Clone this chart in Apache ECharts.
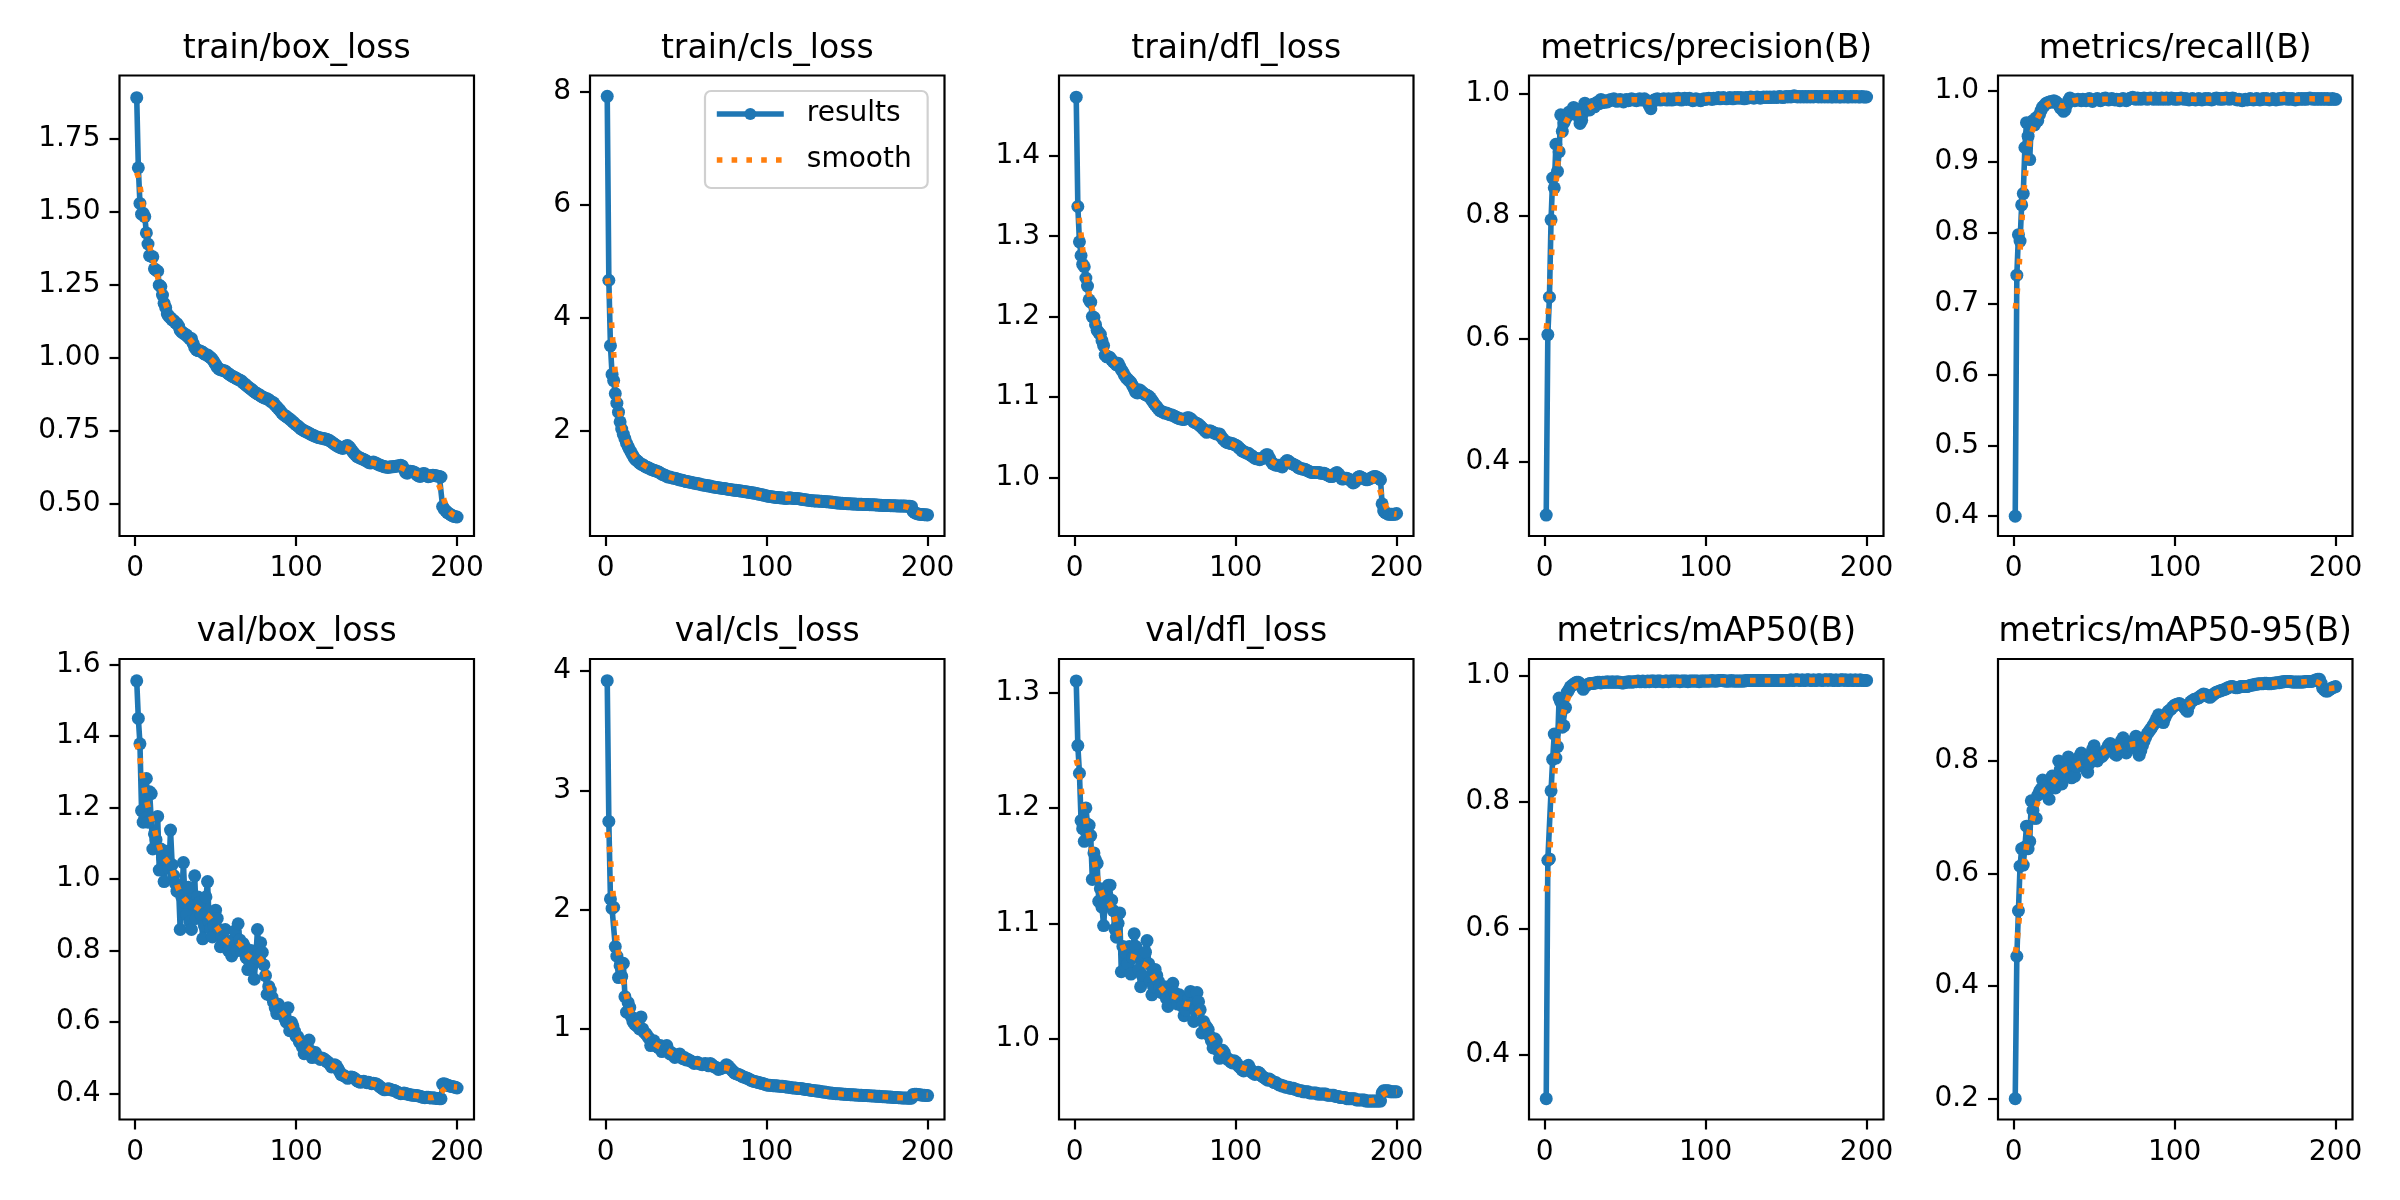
<!DOCTYPE html>
<html>
<head>
<meta charset="utf-8">
<title>results</title>
<script src="https://cdn.jsdelivr.net/npm/echarts@6.0.0/dist/echarts.min.js"></script>
<style>
    html, body { margin: 0; padding: 0; background: #ffffff; }
    #chart { width: 2400px; height: 1200px; }
</style>
</head>
<body>
<div id="chart"></div>
<script>
// 子图标题
const titles = [
    'train/box_loss', 'train/cls_loss', 'train/dfl_loss', 'metrics/precision(B)', 'metrics/recall(B)',
    'val/box_loss', 'val/cls_loss', 'val/dfl_loss', 'metrics/mAP50(B)', 'metrics/mAP50-95(B)'
];

// 每个 epoch 的数值
const trainBoxLoss = [
    1.891, 1.651, 1.529, 1.492, 1.495, 1.484, 1.428, 1.390, 1.350, 1.348,
    1.346, 1.305, 1.300, 1.297, 1.249, 1.244, 1.215, 1.187, 1.172, 1.150,
    1.142, 1.137, 1.130, 1.128, 1.121, 1.117, 1.109, 1.095, 1.088, 1.085,
    1.080, 1.078, 1.071, 1.065, 1.066, 1.050, 1.036, 1.028, 1.025, 1.024,
    1.022, 1.019, 1.014, 1.011, 1.010, 1.004, 1.001, 0.995, 0.986, 0.978,
    0.968, 0.962, 0.960, 0.958, 0.956, 0.955, 0.950, 0.946, 0.942, 0.938,
    0.935, 0.933, 0.929, 0.926, 0.924, 0.921, 0.915, 0.911, 0.906, 0.902,
    0.897, 0.893, 0.889, 0.884, 0.880, 0.877, 0.874, 0.870, 0.866, 0.864,
    0.861, 0.860, 0.857, 0.852, 0.848, 0.846, 0.838, 0.832, 0.826, 0.820,
    0.812, 0.806, 0.803, 0.799, 0.795, 0.790, 0.786, 0.781, 0.776, 0.771,
    0.767, 0.762, 0.757, 0.754, 0.750, 0.748, 0.745, 0.742, 0.739, 0.736,
    0.734, 0.731, 0.729, 0.727, 0.726, 0.725, 0.724, 0.722, 0.721, 0.719,
    0.716, 0.712, 0.708, 0.704, 0.700, 0.697, 0.694, 0.692, 0.690, 0.694,
    0.698, 0.700, 0.695, 0.688, 0.680, 0.673, 0.667, 0.662, 0.659, 0.657,
    0.654, 0.652, 0.649, 0.646, 0.642, 0.640, 0.641, 0.643, 0.641, 0.638,
    0.635, 0.633, 0.631, 0.629, 0.627, 0.626, 0.625, 0.626, 0.627, 0.627,
    0.628, 0.629, 0.630, 0.631, 0.632, 0.630, 0.620, 0.608, 0.605, 0.611,
    0.612, 0.611, 0.609, 0.607, 0.600, 0.596, 0.594, 0.596, 0.604, 0.603,
    0.596, 0.593, 0.594, 0.597, 0.598, 0.597, 0.596, 0.595, 0.594, 0.592,
    0.491, 0.482, 0.476, 0.470, 0.467, 0.463, 0.460, 0.457, 0.456, 0.455
];
const trainClsLoss = [
    7.92, 4.66, 3.50, 2.99, 2.88, 2.65, 2.48, 2.32, 2.15, 2.02,
    1.93, 1.85, 1.77, 1.71, 1.65, 1.60, 1.55, 1.50, 1.47, 1.45,
    1.42, 1.40, 1.39, 1.37, 1.35, 1.34, 1.33, 1.31, 1.30, 1.29,
    1.28, 1.27, 1.26, 1.24, 1.22, 1.21, 1.20, 1.18, 1.17, 1.17,
    1.16, 1.15, 1.15, 1.14, 1.13, 1.12, 1.12, 1.11, 1.10, 1.09,
    1.09, 1.08, 1.08, 1.07, 1.06, 1.06, 1.05, 1.05, 1.04, 1.03,
    1.03, 1.02, 1.02, 1.01, 1.01, 1.00, 0.995, 0.99, 0.985, 0.98,
    0.978, 0.972, 0.968, 0.965, 0.958, 0.955, 0.951, 0.946, 0.942, 0.938,
    0.934, 0.931, 0.927, 0.922, 0.918, 0.915, 0.909, 0.905, 0.900, 0.897,
    0.891, 0.886, 0.881, 0.876, 0.869, 0.863, 0.858, 0.850, 0.843, 0.836,
    0.830, 0.826, 0.822, 0.817, 0.812, 0.809, 0.806, 0.804, 0.801, 0.797,
    0.794, 0.792, 0.796, 0.801, 0.798, 0.793, 0.790, 0.792, 0.789, 0.786,
    0.781, 0.776, 0.771, 0.767, 0.763, 0.760, 0.756, 0.752, 0.749, 0.747,
    0.744, 0.746, 0.743, 0.740, 0.738, 0.736, 0.733, 0.731, 0.729, 0.727,
    0.722, 0.718, 0.714, 0.711, 0.709, 0.707, 0.704, 0.702, 0.700, 0.699,
    0.697, 0.695, 0.694, 0.692, 0.691, 0.690, 0.688, 0.687, 0.686, 0.685,
    0.684, 0.683, 0.682, 0.681, 0.680, 0.679, 0.677, 0.675, 0.673, 0.671,
    0.669, 0.668, 0.667, 0.666, 0.665, 0.664, 0.663, 0.662, 0.661, 0.660,
    0.659, 0.658, 0.657, 0.656, 0.655, 0.655, 0.654, 0.653, 0.652, 0.650,
    0.560, 0.538, 0.525, 0.516, 0.511, 0.507, 0.504, 0.502, 0.500, 0.498
];
const trainDflLoss = [
    1.473, 1.337, 1.293, 1.276, 1.265, 1.262, 1.248, 1.238, 1.221, 1.218,
    1.200, 1.199, 1.190, 1.183, 1.180, 1.178, 1.170, 1.164, 1.152, 1.150,
    1.150, 1.149, 1.146, 1.144, 1.142, 1.140, 1.142, 1.138, 1.134, 1.131,
    1.127, 1.124, 1.122, 1.120, 1.118, 1.114, 1.110, 1.106, 1.105, 1.109,
    1.108, 1.106, 1.104, 1.103, 1.102, 1.101, 1.099, 1.096, 1.093, 1.090,
    1.088, 1.085, 1.083, 1.082, 1.081, 1.080, 1.080, 1.079, 1.078, 1.078,
    1.077, 1.076, 1.075, 1.074, 1.073, 1.073, 1.072, 1.072, 1.073, 1.074,
    1.074, 1.073, 1.071, 1.069, 1.068, 1.067, 1.066, 1.064, 1.062, 1.060,
    1.058, 1.056, 1.057, 1.058, 1.057, 1.056, 1.055, 1.054, 1.054, 1.054,
    1.051, 1.048, 1.046, 1.044, 1.043, 1.043, 1.042, 1.042, 1.041, 1.040,
    1.039, 1.037, 1.035, 1.033, 1.032, 1.031, 1.030, 1.030, 1.028, 1.027,
    1.025, 1.024, 1.023, 1.023, 1.022, 1.023, 1.024, 1.026, 1.028, 1.028,
    1.024, 1.020, 1.017, 1.016, 1.015, 1.015, 1.015, 1.014, 1.013, 1.016,
    1.019, 1.021, 1.020, 1.018, 1.017, 1.016, 1.015, 1.014, 1.012, 1.011,
    1.011, 1.010, 1.010, 1.009, 1.008, 1.007, 1.006, 1.006, 1.006, 1.006,
    1.006, 1.006, 1.005, 1.005, 1.005, 1.004, 1.003, 1.002, 1.001, 1.001,
    1.003, 1.005, 1.006, 1.004, 1.001, 0.998, 0.998, 0.999, 0.999, 0.998,
    0.997, 0.995, 0.993, 0.994, 0.997, 1.000, 1.001, 1.000, 0.999, 0.998,
    0.997, 0.997, 0.998, 0.999, 1.000, 1.001, 1.001, 1.000, 0.999, 0.997,
    0.967, 0.958, 0.956, 0.955, 0.954, 0.954, 0.954, 0.954, 0.954, 0.955
];
const precision = [
    0.313, 0.607, 0.668, 0.794, 0.862, 0.846, 0.917, 0.873, 0.905, 0.965,
    0.938, 0.952, 0.958, 0.963, 0.969, 0.966, 0.972, 0.977, 0.970, 0.974,
    0.962, 0.951, 0.956, 0.968, 0.984, 0.979, 0.975, 0.973, 0.980, 0.982,
    0.978, 0.984, 0.986, 0.983, 0.990, 0.987, 0.985, 0.988, 0.986, 0.988,
    0.990, 0.989, 0.991, 0.988, 0.987, 0.989, 0.990, 0.988, 0.986, 0.989,
    0.990, 0.988, 0.989, 0.991, 0.990, 0.989, 0.988, 0.990, 0.991, 0.989,
    0.990, 0.991, 0.988, 0.985, 0.980, 0.975, 0.985, 0.989, 0.990, 0.991,
    0.990, 0.989, 0.990, 0.991, 0.990, 0.989, 0.991, 0.990, 0.989, 0.991,
    0.990, 0.991, 0.992, 0.990, 0.989, 0.991, 0.992, 0.990, 0.991, 0.992,
    0.990, 0.988, 0.989, 0.991, 0.990, 0.989, 0.988, 0.990, 0.991, 0.990,
    0.991, 0.992, 0.991, 0.990, 0.992, 0.991, 0.992, 0.993, 0.991, 0.992,
    0.993, 0.992, 0.991, 0.992, 0.993, 0.992, 0.991, 0.993, 0.992, 0.993,
    0.992, 0.993, 0.992, 0.991, 0.993, 0.992, 0.993, 0.994, 0.993, 0.992,
    0.993, 0.994, 0.993, 0.992, 0.993, 0.994, 0.993, 0.994, 0.993, 0.994,
    0.993, 0.994, 0.994, 0.993, 0.994, 0.995, 0.994, 0.993, 0.994, 0.995,
    0.994, 0.995, 0.994, 0.995, 0.996, 0.995, 0.994, 0.995, 0.994, 0.995,
    0.994, 0.995, 0.994, 0.995, 0.994, 0.995, 0.994, 0.995, 0.995, 0.994,
    0.995, 0.994, 0.995, 0.994, 0.995, 0.994, 0.995, 0.994, 0.994, 0.995,
    0.994, 0.995, 0.994, 0.994, 0.995, 0.994, 0.995, 0.994, 0.994, 0.995,
    0.994, 0.995, 0.994, 0.995, 0.994, 0.994, 0.995, 0.994, 0.994, 0.994
];
const recall = [
    0.400, 0.740, 0.797, 0.788, 0.839, 0.855, 0.920, 0.955, 0.936, 0.903,
    0.956, 0.958, 0.952, 0.962, 0.958, 0.966, 0.972, 0.977, 0.979, 0.982,
    0.983, 0.984, 0.985, 0.984, 0.986, 0.985, 0.983, 0.980, 0.976, 0.974,
    0.971, 0.973, 0.980, 0.986, 0.990, 0.988, 0.987, 0.986, 0.987, 0.988,
    0.987, 0.986, 0.988, 0.987, 0.986, 0.988, 0.989, 0.987, 0.985, 0.987,
    0.988, 0.989, 0.987, 0.986, 0.988, 0.989, 0.990, 0.988, 0.987, 0.988,
    0.989, 0.988, 0.987, 0.988, 0.987, 0.986, 0.988, 0.989, 0.987, 0.986,
    0.988, 0.989, 0.990, 0.991, 0.989, 0.988, 0.990, 0.989, 0.988, 0.989,
    0.990, 0.989, 0.988, 0.989, 0.990, 0.989, 0.988, 0.990, 0.989, 0.988,
    0.989, 0.990, 0.988, 0.989, 0.990, 0.988, 0.989, 0.990, 0.989, 0.988,
    0.989, 0.988, 0.989, 0.990, 0.989, 0.988, 0.989, 0.988, 0.987, 0.988,
    0.989, 0.988, 0.987, 0.988, 0.989, 0.988, 0.987, 0.988, 0.989, 0.988,
    0.989, 0.988, 0.987, 0.988, 0.989, 0.990, 0.989, 0.988, 0.989, 0.988,
    0.989, 0.990, 0.989, 0.988, 0.989, 0.990, 0.989, 0.988, 0.987, 0.988,
    0.987, 0.986, 0.987, 0.988, 0.987, 0.988, 0.989, 0.988, 0.987, 0.988,
    0.989, 0.988, 0.987, 0.988, 0.989, 0.988, 0.989, 0.988, 0.987, 0.988,
    0.989, 0.988, 0.987, 0.988, 0.989, 0.988, 0.989, 0.990, 0.989, 0.988,
    0.989, 0.988, 0.989, 0.988, 0.987, 0.988, 0.989, 0.988, 0.989, 0.988,
    0.989, 0.988, 0.989, 0.990, 0.989, 0.988, 0.989, 0.988, 0.989, 0.988,
    0.989, 0.988, 0.989, 0.988, 0.989, 0.988, 0.988, 0.989, 0.988, 0.988
];
const valBoxLoss = [
    1.554, 1.449, 1.378, 1.191, 1.159, 1.170, 1.281, 1.159, 1.244, 1.239,
    1.084, 1.126, 1.110, 1.175, 1.025, 1.084, 1.060, 0.993, 1.078, 1.041,
    1.030, 1.137, 1.040, 1.010, 0.988, 0.966, 0.975, 0.859, 0.950, 1.046,
    0.935, 0.900, 0.977, 0.880, 0.859, 0.930, 1.009, 0.890, 0.950, 0.934,
    0.900, 0.833, 0.870, 0.950, 0.993, 0.880, 0.860, 0.838, 0.870, 0.913,
    0.890, 0.860, 0.811, 0.840, 0.830, 0.859, 0.820, 0.800, 0.810, 0.785,
    0.830, 0.855, 0.800, 0.875, 0.830, 0.800, 0.820, 0.811, 0.780, 0.747,
    0.770, 0.800, 0.760, 0.720, 0.780, 0.859, 0.790, 0.822, 0.795, 0.760,
    0.730, 0.678, 0.700, 0.690, 0.670, 0.656, 0.640, 0.624, 0.650, 0.640,
    0.630, 0.624, 0.610, 0.600, 0.640, 0.576, 0.600, 0.590, 0.575, 0.560,
    0.560, 0.545, 0.540, 0.530, 0.512, 0.530, 0.545, 0.550, 0.520, 0.501,
    0.510, 0.515, 0.505, 0.500, 0.496, 0.500, 0.498, 0.495, 0.490, 0.488,
    0.482, 0.475, 0.478, 0.481, 0.478, 0.470, 0.462, 0.453, 0.452, 0.450,
    0.447, 0.443, 0.445, 0.447, 0.446, 0.444, 0.440, 0.436, 0.434, 0.432,
    0.434, 0.435, 0.433, 0.431, 0.432, 0.430, 0.428, 0.429, 0.428, 0.427,
    0.424, 0.420, 0.416, 0.413, 0.411, 0.412, 0.414, 0.413, 0.411, 0.410,
    0.409, 0.407, 0.404, 0.402, 0.400, 0.401, 0.402, 0.401, 0.399, 0.398,
    0.397, 0.396, 0.396, 0.395, 0.395, 0.394, 0.393, 0.391, 0.390, 0.389,
    0.390, 0.390, 0.389, 0.388, 0.389, 0.388, 0.387, 0.387, 0.386, 0.386,
    0.427, 0.428, 0.426, 0.424, 0.422, 0.421, 0.420, 0.419, 0.418, 0.416
];
const valClsLoss = [
    3.92, 2.74, 2.09, 2.01, 2.02, 1.69, 1.61, 1.43, 1.53, 1.44,
    1.55, 1.27, 1.14, 1.22, 1.18, 1.10, 1.06, 1.04, 1.03, 1.02,
    1.00, 1.10, 1.00, 0.97, 0.96, 0.94, 0.92, 0.86, 0.88, 0.90,
    0.87, 0.85, 0.84, 0.86, 0.81, 0.83, 0.85, 0.86, 0.82, 0.79,
    0.80, 0.78, 0.76, 0.77, 0.78, 0.79, 0.77, 0.75, 0.76, 0.74,
    0.745, 0.735, 0.73, 0.72, 0.71, 0.715, 0.72, 0.71, 0.705, 0.70,
    0.705, 0.71, 0.70, 0.69, 0.71, 0.70, 0.685, 0.68, 0.675, 0.66,
    0.665, 0.67, 0.675, 0.68, 0.70, 0.69, 0.675, 0.66, 0.645, 0.63,
    0.625, 0.62, 0.615, 0.61, 0.60, 0.595, 0.59, 0.585, 0.58, 0.57,
    0.565, 0.56, 0.557, 0.555, 0.55, 0.546, 0.543, 0.540, 0.535, 0.530,
    0.528, 0.527, 0.526, 0.523, 0.522, 0.522, 0.520, 0.519, 0.519, 0.518,
    0.516, 0.513, 0.512, 0.511, 0.508, 0.505, 0.505, 0.504, 0.501, 0.500,
    0.499, 0.498, 0.495, 0.492, 0.491, 0.490, 0.487, 0.484, 0.483, 0.482,
    0.479, 0.478, 0.476, 0.473, 0.471, 0.470, 0.468, 0.465, 0.463, 0.462,
    0.460, 0.459, 0.457, 0.456, 0.456, 0.454, 0.453, 0.452, 0.451, 0.450,
    0.449, 0.448, 0.447, 0.447, 0.446, 0.445, 0.444, 0.444, 0.443, 0.442,
    0.441, 0.441, 0.440, 0.439, 0.438, 0.437, 0.437, 0.435, 0.434, 0.434,
    0.432, 0.431, 0.431, 0.430, 0.429, 0.428, 0.428, 0.426, 0.425, 0.424,
    0.424, 0.423, 0.422, 0.421, 0.421, 0.420, 0.420, 0.419, 0.418, 0.418,
    0.450, 0.452, 0.451, 0.449, 0.447, 0.446, 0.444, 0.443, 0.442, 0.441
];
const valDflLoss = [
    1.310, 1.254, 1.230, 1.189, 1.182, 1.171, 1.200, 1.186, 1.185, 1.176,
    1.138, 1.161, 1.155, 1.152, 1.119, 1.130, 1.114, 1.098, 1.118, 1.125,
    1.133, 1.133, 1.120, 1.111, 1.095, 1.088, 1.100, 1.109, 1.058, 1.080,
    1.075, 1.062, 1.065, 1.080, 1.056, 1.070, 1.091, 1.080, 1.072, 1.060,
    1.045, 1.055, 1.072, 1.075, 1.085, 1.065, 1.050, 1.038, 1.045, 1.060,
    1.055, 1.050, 1.045, 1.040, 1.040, 1.045, 1.035, 1.028, 1.032, 1.040,
    1.048, 1.040, 1.035, 1.030, 1.038, 1.035, 1.028, 1.020, 1.025, 1.030,
    1.035, 1.041, 1.030, 1.015, 1.025, 1.040, 1.032, 1.025, 1.005, 1.015,
    1.012, 1.010, 1.008, 1.002, 0.998, 0.992, 1.000, 0.998, 0.990, 0.983,
    0.987, 0.990, 0.988, 0.984, 0.982, 0.982, 0.980, 0.979, 0.981, 0.980,
    0.978, 0.976, 0.975, 0.973, 0.972, 0.973, 0.976, 0.977, 0.974, 0.971,
    0.970, 0.969, 0.970, 0.971, 0.970, 0.968, 0.967, 0.966, 0.965, 0.964,
    0.965, 0.964, 0.963, 0.962, 0.962, 0.961, 0.960, 0.960, 0.959, 0.959,
    0.958, 0.958, 0.958, 0.957, 0.957, 0.957, 0.956, 0.956, 0.955, 0.955,
    0.955, 0.954, 0.954, 0.954, 0.954, 0.953, 0.953, 0.953, 0.953, 0.953,
    0.952, 0.952, 0.952, 0.952, 0.952, 0.952, 0.951, 0.951, 0.951, 0.951,
    0.951, 0.950, 0.950, 0.950, 0.949, 0.949, 0.949, 0.949, 0.948, 0.948,
    0.948, 0.948, 0.948, 0.948, 0.947, 0.947, 0.947, 0.947, 0.947, 0.947,
    0.946, 0.946, 0.946, 0.946, 0.946, 0.946, 0.946, 0.946, 0.946, 0.946,
    0.953, 0.955, 0.955, 0.955, 0.955, 0.954, 0.954, 0.954, 0.954, 0.954
];
const mAP50 = [
    0.330, 0.708, 0.710, 0.818, 0.868, 0.908, 0.870, 0.888, 0.965, 0.959,
    0.919, 0.921, 0.950, 0.974, 0.978, 0.983, 0.985, 0.987, 0.989, 0.990,
    0.990, 0.988, 0.983, 0.979, 0.984, 0.985, 0.987, 0.988, 0.988, 0.988,
    0.989, 0.989, 0.990, 0.990, 0.989, 0.990, 0.990, 0.990, 0.991, 0.990,
    0.990, 0.991, 0.990, 0.990, 0.991, 0.990, 0.990, 0.989, 0.989, 0.990,
    0.990, 0.991, 0.991, 0.990, 0.991, 0.991, 0.991, 0.992, 0.991, 0.991,
    0.992, 0.991, 0.991, 0.992, 0.991, 0.992, 0.992, 0.992, 0.991, 0.992,
    0.992, 0.992, 0.991, 0.991, 0.992, 0.992, 0.991, 0.992, 0.992, 0.992,
    0.992, 0.992, 0.992, 0.991, 0.992, 0.992, 0.992, 0.992, 0.991, 0.992,
    0.992, 0.992, 0.992, 0.992, 0.992, 0.991, 0.992, 0.992, 0.992, 0.992,
    0.992, 0.992, 0.992, 0.993, 0.992, 0.992, 0.992, 0.993, 0.993, 0.993,
    0.993, 0.992, 0.992, 0.992, 0.992, 0.993, 0.992, 0.992, 0.992, 0.992,
    0.992, 0.992, 0.992, 0.992, 0.993, 0.993, 0.993, 0.993, 0.993, 0.993,
    0.993, 0.993, 0.993, 0.993, 0.993, 0.993, 0.993, 0.993, 0.993, 0.993,
    0.993, 0.993, 0.993, 0.993, 0.993, 0.993, 0.993, 0.993, 0.993, 0.993,
    0.993, 0.993, 0.994, 0.993, 0.993, 0.994, 0.994, 0.993, 0.993, 0.994,
    0.993, 0.993, 0.994, 0.994, 0.993, 0.993, 0.994, 0.993, 0.993, 0.994,
    0.994, 0.993, 0.993, 0.994, 0.994, 0.993, 0.994, 0.994, 0.993, 0.993,
    0.994, 0.993, 0.993, 0.994, 0.994, 0.993, 0.994, 0.993, 0.993, 0.994,
    0.993, 0.993, 0.994, 0.993, 0.993, 0.994, 0.993, 0.993, 0.993, 0.993
];
const mAP5095 = [
    0.200, 0.453, 0.534, 0.613, 0.644, 0.615, 0.647, 0.684, 0.644, 0.657,
    0.729, 0.712, 0.698, 0.698, 0.739, 0.745, 0.750, 0.766, 0.755, 0.742,
    0.748, 0.732, 0.755, 0.773, 0.765, 0.752, 0.770, 0.800, 0.785, 0.759,
    0.775, 0.790, 0.798, 0.807, 0.790, 0.770, 0.780, 0.773, 0.790, 0.800,
    0.808, 0.814, 0.800, 0.790, 0.785, 0.780, 0.795, 0.810, 0.820, 0.827,
    0.815, 0.800, 0.805, 0.810, 0.808, 0.812, 0.818, 0.822, 0.828, 0.831,
    0.825, 0.818, 0.812, 0.810, 0.820, 0.830, 0.836, 0.841, 0.830, 0.814,
    0.820, 0.828, 0.832, 0.825, 0.838, 0.844, 0.840, 0.810, 0.818, 0.827,
    0.835, 0.842, 0.848, 0.852, 0.856, 0.860, 0.865, 0.870, 0.876, 0.882,
    0.878, 0.872, 0.868, 0.876, 0.883, 0.888, 0.890, 0.893, 0.896, 0.899,
    0.900, 0.901, 0.902, 0.900, 0.898, 0.895, 0.891, 0.888, 0.898, 0.905,
    0.907, 0.909, 0.910, 0.911, 0.912, 0.915, 0.917, 0.919, 0.918, 0.916,
    0.914, 0.913, 0.915, 0.918, 0.920, 0.922, 0.923, 0.924, 0.925, 0.926,
    0.927, 0.928, 0.930, 0.931, 0.932, 0.932, 0.931, 0.930, 0.930, 0.931,
    0.932, 0.932, 0.932, 0.932, 0.932, 0.933, 0.934, 0.935, 0.935, 0.936,
    0.936, 0.937, 0.937, 0.937, 0.937, 0.938, 0.938, 0.937, 0.937, 0.937,
    0.938, 0.938, 0.939, 0.939, 0.939, 0.940, 0.940, 0.941, 0.941, 0.941,
    0.941, 0.941, 0.940, 0.940, 0.940, 0.940, 0.940, 0.940, 0.940, 0.940,
    0.941, 0.941, 0.941, 0.941, 0.941, 0.942, 0.943, 0.944, 0.945, 0.945,
    0.938, 0.929, 0.926, 0.924, 0.924, 0.926, 0.928, 0.930, 0.931, 0.932
];

const seriesValues = [
    trainBoxLoss, trainClsLoss, trainDflLoss, precision, recall,
    valBoxLoss, valClsLoss, valDflLoss, mAP50, mAP5095
];

// 纵轴刻度
const yTicks = [
    [0.50, 0.75, 1.00, 1.25, 1.50, 1.75],
    [2, 4, 6, 8],
    [1.0, 1.1, 1.2, 1.3, 1.4],
    [0.4, 0.6, 0.8, 1.0],
    [0.4, 0.5, 0.6, 0.7, 0.8, 0.9, 1.0],
    [0.4, 0.6, 0.8, 1.0, 1.2, 1.4, 1.6],
    [1, 2, 3, 4],
    [1.0, 1.1, 1.2, 1.3],
    [0.4, 0.6, 0.8, 1.0],
    [0.2, 0.4, 0.6, 0.8]
];
const yDecimals = [2, 0, 1, 1, 1, 1, 0, 1, 1, 1];
const yRanges = [
    [0.390, 1.967], [0.125, 8.29], [0.927, 1.500], [0.279, 1.029], [0.372, 1.0216],
    [0.328, 1.615], [0.240, 4.102], [0.930, 1.329], [0.297, 1.027], [0.163, 0.981]
];
const xTicks = [0, 100, 200];

// 版面
const gridLefts = [119.5, 590, 1059, 1529, 1998];
const gridTops = [75.5, 659];
const gridWidth = 354.5;
const gridHeight = 460.5;
const font = 'DejaVu Sans';

// 高斯平滑 (sigma = 3, reflect)
function gaussianSmooth(y, sigma) {
    const radius = Math.floor(4 * sigma + 0.5);
    const weights = [];
    let sum = 0;
    for (let k = -radius; k <= radius; k++) {
        const w = Math.exp(-0.5 * (k / sigma) * (k / sigma));
        weights.push(w);
        sum += w;
    }
    const n = y.length;
    const out = [];
    for (let i = 0; i < n; i++) {
        let acc = 0;
        for (let k = -radius; k <= radius; k++) {
            let j = i + k;
            if (j < 0) j = -j - 1;
            if (j >= n) j = 2 * n - j - 1;
            acc += weights[k + radius] * y[j];
        }
        out.push(acc / sum);
    }
    return out;
}

const chart = echarts.init(document.getElementById('chart'), null, { renderer: 'canvas' });

const grids = [], xAxes = [], yAxes = [], series = [], titleList = [];

seriesValues.forEach(function (values, i) {
    const row = Math.floor(i / 5);
    const col = i % 5;
    const left = gridLefts[col];
    const top = gridTops[row];

    grids.push({
        left: left, top: top, width: gridWidth, height: gridHeight,
        show: true, borderColor: '#000', borderWidth: 2.2, backgroundColor: 'transparent',
        containLabel: false, outerBoundsMode: 'none'
    });

    xAxes.push({
        type: 'value', gridIndex: i, min: -9.7, max: 210.5,
        splitLine: { show: false },
        axisLine: { show: false, onZero: false },
        axisTick: { show: true, length: 10, inside: false, customValues: xTicks, lineStyle: { color: '#000', width: 2.2 } },
        axisLabel: { customValues: xTicks, margin: 19, color: '#000', fontSize: 28, fontFamily: font }
    });

    const dec = yDecimals[i];
    yAxes.push({
        type: 'value', gridIndex: i, min: yRanges[i][0], max: yRanges[i][1],
        splitLine: { show: false },
        axisLine: { show: false, onZero: false },
        axisTick: { show: true, length: 10, inside: false, customValues: yTicks[i], lineStyle: { color: '#000', width: 2.2 } },
        axisLabel: {
            customValues: yTicks[i], margin: 19, color: '#000', fontSize: 28, fontFamily: font,
            formatter: function (v) { return Number(v).toFixed(dec); }
        }
    });

    const smooth = gaussianSmooth(values, 3);
    series.push({
        name: 'results', type: 'line', xAxisIndex: i, yAxisIndex: i,
        data: values.map(function (v, k) { return [k + 1, v]; }),
        symbol: 'circle', symbolSize: 13, showSymbol: true,
        lineStyle: { color: '#1f77b4', width: 5.6 },
        itemStyle: { color: '#1f77b4' },
        emphasis: { disabled: true },
        z: 2
    });
    series.push({
        name: 'smooth', type: 'line', xAxisIndex: i, yAxisIndex: i,
        data: smooth.map(function (v, k) { return [k + 1, v]; }),
        symbol: 'none', showSymbol: false,
        lineStyle: { color: '#ff7f0e', width: 5.6, type: [5.6, 9.2], cap: 'butt' },
        itemStyle: { color: '#ff7f0e' },
        emphasis: { disabled: true },
        z: 3
    });

    titleList.push({
        text: titles[i],
        left: left + gridWidth / 2,
        top: top - 43,
        textAlign: 'center',
        padding: 0,
        textStyle: { color: '#000', fontSize: 33, fontWeight: 'normal', fontFamily: font }
    });
});

const option = {
    backgroundColor: '#ffffff',
    animation: false,
    title: titleList,
    grid: grids,
    xAxis: xAxes,
    yAxis: yAxes,
    legend: {
        data: [
            {
                name: 'results',
                itemStyle: { color: '#1f77b4' },
                lineStyle: { color: '#1f77b4', width: 5.6 }
            },
            {
                name: 'smooth',
                itemStyle: { color: '#ff7f0e', opacity: 0 },
                lineStyle: { color: '#ff7f0e', width: 5.6, type: [5.6, 9.2], cap: 'butt' }
            }
        ],
        orient: 'vertical',
        left: 705, top: 91,
        padding: [9, 16, 14, 9],
        itemWidth: 67, itemHeight: 15, itemGap: 18,
        borderColor: '#d0d0d0', borderWidth: 2.2, borderRadius: 6,
        backgroundColor: 'rgba(255,255,255,0.8)',
        textStyle: { color: '#000', fontSize: 28, fontFamily: font, padding: [0, 0, 0, 18] },
        selectedMode: false
    },
    series: series
};

chart.setOption(option);
</script>
</body>
</html>
